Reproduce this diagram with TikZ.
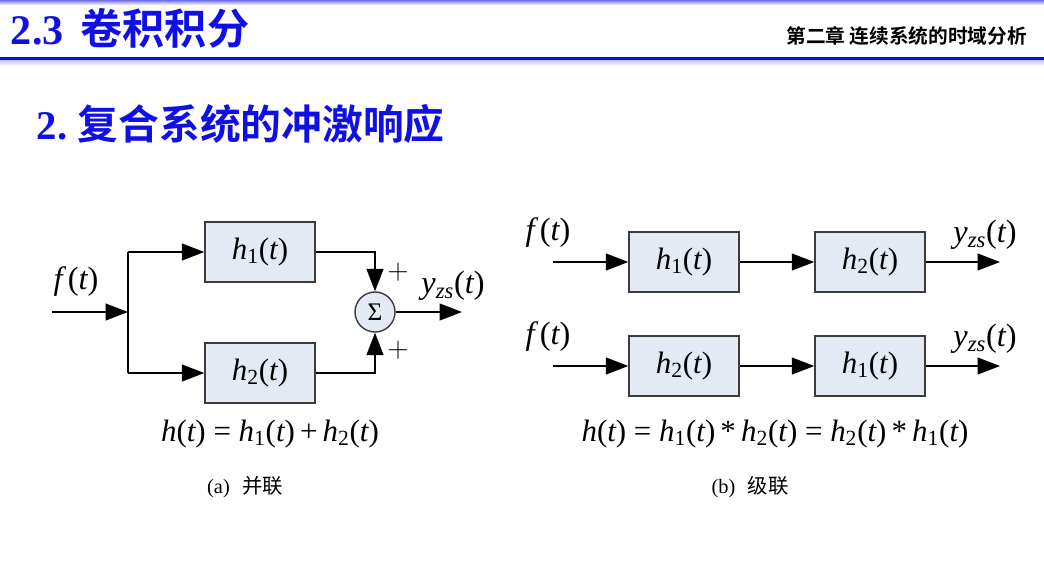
\documentclass[tikz,border=0pt]{standalone}
\usepackage{fontspec}
\setmainfont{Liberation Serif}
\newfontfamily\tms{Liberation Serif}
\newfontfamily\cjk{Noto Sans CJK SC}
\newfontfamily\cjkbold{Noto Sans CJK SC}[BoldFont={* Bold}]
\usetikzlibrary{arrows.meta,positioning,calc}
\definecolor{titleblue}{RGB}{16,16,230}
\definecolor{boxfill}{RGB}{228,234,244}
\definecolor{linegray}{RGB}{60,60,60}
% italic letter and subscript in formulas
\newcommand{\vi}[1]{{\tms\itshape #1}}
\newcommand{\sub}[1]{\textsubscript{#1}}
\tikzset{
    % Blocks
    sysbox/.style={
        rectangle,
        draw=linegray,
        line width=1pt,
        fill=boxfill,
        minimum width=2.75cm,
        minimum height=1.5cm,
        inner sep=0pt,
        font=\tms\fontsize{22}{24}\selectfont
    },
    sumnode/.style={
        circle,
        draw=linegray,
        line width=1pt,
        fill=boxfill,
        minimum size=1cm,
        inner sep=0pt,
        font=\tms\fontsize{18}{20}\selectfont
    },
    % Arrows
    arrow/.style={
        -{Triangle[length=16pt,width=12pt]},
        line width=1.2pt,
        draw=black
    },
    wire/.style={
        line width=1.2pt,
        draw=black
    },
    % Labels
    siglabel/.style={
        font=\tms\fontsize{23}{26}\selectfont
    },
    eqlabel/.style={
        font=\tms\fontsize{22}{24}\selectfont
    },
    signlabel/.style={
        font=\fontsize{20}{22}\selectfont
    },
    caption/.style={
        font=\tms\fontsize{14.5}{17}\selectfont
    }
}

\begin{document}
\begin{tikzpicture}[x=0.025cm, y=-0.025cm]
    \useasboundingbox (0,0) rectangle (1044,560);

    % Header bars
    \shade[top color=titleblue!60, bottom color=white] (0,0) rectangle (1044,5);
    \fill[titleblue] (0,57) rectangle (1044,60);
    \shade[top color=titleblue!25, bottom color=white] (0,60) rectangle (1044,66);

    % Title
    \node[anchor=west, text=titleblue, font=\fontsize{30}{34}\selectfont\bfseries] (title) at (6,28)
        {2.3\hspace{0.4em}{\cjkbold\bfseries 卷积积分}};
    \node[anchor=east, font=\fontsize{14}{16}\selectfont\cjkbold\bfseries] (chapter) at (1032,36)
        {第二章 连续系统的时域分析};
    \node[anchor=west, text=titleblue, font=\fontsize{29}{34}\selectfont\bfseries] (section) at (32,124)
        {2.\hspace{0.25em}{\cjkbold\bfseries 复合系统的冲激响应}};

    % (a) parallel
    \coordinate (ina) at (52,312);
    \coordinate (split) at (128,312);
    \node[sysbox] (ha1) at (260,252) {\vi{h}\sub{1}(\vi{t})};
    \node[sysbox] (ha2) at (260,373) {\vi{h}\sub{2}(\vi{t})};
    \node[sumnode] (sum) at (375,312) {Σ};
    \coordinate (outa) at (462,312);
    \node[siglabel] (fa) at (76,282) {\vi{f}\,(\vi{t})};
    \node[siglabel] (ya) at (453,286) {\vi{y}\sub{\vi{zs}}(\vi{t})};
    \node[signlabel] (plusa) at (398,272) {$+$};
    \node[signlabel] (plusb) at (398,350) {$+$};

    \draw[arrow] (ina) -- (split);
    \draw[wire] (split |- ha1) -- (split |- ha2);
    \draw[arrow] (split |- ha1) -- (ha1.west);
    \draw[arrow] (split |- ha2) -- (ha2.west);
    \draw[arrow] (ha1.east) -| (sum.north);
    \draw[arrow] (ha2.east) -| (sum.south);
    \draw[arrow] (sum.east) -- (outa);

    \node[eqlabel] (eqa) at (270,434) {\vi{h}(\vi{t}) = \vi{h}\sub{1}(\vi{t})\,+\,\vi{h}\sub{2}(\vi{t})};
    \node[caption] (capa) at (245,487) {(a)\hspace{0.6em}{\cjk 并联}};

    % (b) cascade
    \coordinate (inb1) at (553,262);
    \coordinate (inb2) at (553,366);
    \node[sysbox] (hb11) at (684,262) {\vi{h}\sub{1}(\vi{t})};
    \node[sysbox] (hb12) at (870,262) {\vi{h}\sub{2}(\vi{t})};
    \node[sysbox] (hb21) at (684,366) {\vi{h}\sub{2}(\vi{t})};
    \node[sysbox] (hb22) at (870,366) {\vi{h}\sub{1}(\vi{t})};
    \coordinate (outb1) at (1000,262);
    \coordinate (outb2) at (1000,366);
    \node[siglabel] (fb1) at (548,233) {\vi{f}\,(\vi{t})};
    \node[siglabel] (fb2) at (548,337) {\vi{f}\,(\vi{t})};
    \node[siglabel] (yb1) at (985,235) {\vi{y}\sub{\vi{zs}}(\vi{t})};
    \node[siglabel] (yb2) at (985,339) {\vi{y}\sub{\vi{zs}}(\vi{t})};

    \draw[arrow] (inb1) -- (hb11.west);
    \draw[arrow] (hb11.east) -- (hb12.west);
    \draw[arrow] (hb12.east) -- (outb1);
    \draw[arrow] (inb2) -- (hb21.west);
    \draw[arrow] (hb21.east) -- (hb22.west);
    \draw[arrow] (hb22.east) -- (outb2);

    \node[eqlabel] (eqb) at (775,434) {\vi{h}(\vi{t}) = \vi{h}\sub{1}(\vi{t})\,*\,\vi{h}\sub{2}(\vi{t}) = \vi{h}\sub{2}(\vi{t})\,*\,\vi{h}\sub{1}(\vi{t})};
    \node[caption] (capb) at (750,487) {(b)\hspace{0.6em}{\cjk 级联}};

\end{tikzpicture}
\end{document}
